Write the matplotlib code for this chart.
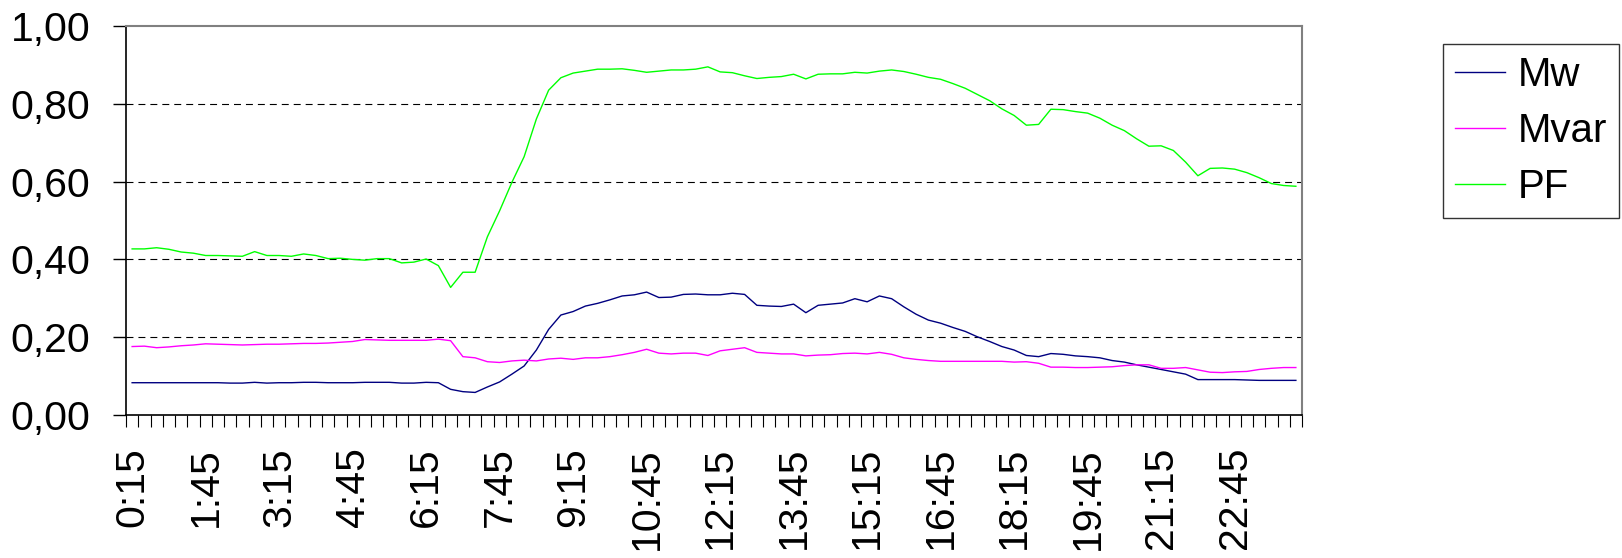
import matplotlib
matplotlib.use("Agg")
import matplotlib.pyplot as plt
from matplotlib.ticker import FixedLocator, FuncFormatter, NullFormatter

plt.rcParams['font.family'] = ['Liberation Sans', 'DejaVu Sans']
plt.rcParams['lines.scale_dashes'] = False

# categories: quarter hours 0:15 ... 24:00
times = [f"{m // 60}:{m % 60:02d}" for m in range(15, 24 * 60 + 1, 15)]

mw = [0.083, 0.083, 0.083, 0.083, 0.083, 0.083, 0.083, 0.083, 0.082, 0.082,
      0.084, 0.082, 0.083, 0.083, 0.084, 0.084, 0.083, 0.083, 0.083, 0.084,
      0.084, 0.084, 0.082, 0.082, 0.084, 0.083, 0.066, 0.060, 0.058, 0.072,
      0.085, 0.105, 0.126, 0.167, 0.220, 0.257, 0.266, 0.280, 0.287, 0.296,
      0.306, 0.309, 0.316, 0.302, 0.303, 0.310, 0.311, 0.309, 0.309, 0.313,
      0.310, 0.282, 0.280, 0.279, 0.285, 0.263, 0.282, 0.285, 0.288, 0.299,
      0.291, 0.306, 0.299, 0.278, 0.259, 0.244, 0.236, 0.225, 0.215, 0.201,
      0.189, 0.176, 0.167, 0.153, 0.150, 0.158, 0.156, 0.152, 0.150, 0.147,
      0.140, 0.136, 0.129, 0.123, 0.117, 0.111, 0.105, 0.091, 0.091, 0.091,
      0.091, 0.090, 0.089, 0.089, 0.089, 0.089]

mvar = [0.176, 0.177, 0.173, 0.175, 0.178, 0.180, 0.183, 0.182, 0.181, 0.180,
        0.181, 0.182, 0.182, 0.183, 0.184, 0.184, 0.185, 0.187, 0.189, 0.194,
        0.193, 0.192, 0.192, 0.192, 0.192, 0.195, 0.191, 0.150, 0.147, 0.137,
        0.135, 0.139, 0.141, 0.139, 0.144, 0.146, 0.143, 0.147, 0.147, 0.150,
        0.155, 0.161, 0.169, 0.159, 0.157, 0.159, 0.159, 0.153, 0.165, 0.169,
        0.173, 0.161, 0.159, 0.157, 0.157, 0.152, 0.154, 0.155, 0.158, 0.159,
        0.157, 0.161, 0.156, 0.147, 0.143, 0.140, 0.138, 0.138, 0.138, 0.138,
        0.138, 0.138, 0.136, 0.137, 0.133, 0.123, 0.123, 0.122, 0.122, 0.123,
        0.124, 0.127, 0.129, 0.129, 0.120, 0.120, 0.122, 0.116, 0.110, 0.109,
        0.111, 0.112, 0.117, 0.120, 0.122, 0.122]

pf = [0.427, 0.427, 0.430, 0.426, 0.419, 0.416, 0.410, 0.410, 0.409, 0.408,
      0.420, 0.410, 0.410, 0.408, 0.414, 0.410, 0.402, 0.403, 0.400, 0.398,
      0.402, 0.402, 0.391, 0.393, 0.401, 0.384, 0.328, 0.367, 0.367, 0.458,
      0.525, 0.598, 0.664, 0.761, 0.835, 0.867, 0.879, 0.884, 0.889, 0.889,
      0.890, 0.886, 0.881, 0.884, 0.887, 0.887, 0.889, 0.895, 0.882, 0.880,
      0.872, 0.865, 0.868, 0.870, 0.876, 0.864, 0.876, 0.877, 0.877, 0.881,
      0.879, 0.884, 0.887, 0.883, 0.876, 0.868, 0.863, 0.852, 0.840, 0.824,
      0.808, 0.787, 0.770, 0.745, 0.747, 0.786, 0.785, 0.780, 0.776, 0.763,
      0.745, 0.731, 0.710, 0.691, 0.692, 0.680, 0.650, 0.615, 0.634, 0.635,
      0.632, 0.623, 0.610, 0.595, 0.590, 0.588]

series_names = ["Mw", "Mvar", "PF"]
yticks = [0.0, 0.2, 0.4, 0.6, 0.8, 1.0]
label_step = 6

W, H = 1622, 558
fig = plt.figure(figsize=(W / 100, H / 100), dpi=100)
ax = fig.add_axes([126 / W, (H - 415) / H, (1302 - 126) / W, (415 - 26) / H])

x = list(range(len(times)))
ax.plot(x, mw, color="#000080", lw=1.0, label=series_names[0])
ax.plot(x, mvar, color="#FF00FF", lw=1.0, label=series_names[1])
ax.plot(x, pf, color="#00FF00", lw=1.0, label=series_names[2])

ax.set_xlim(-0.5, len(times) - 0.5)
ax.set_ylim(0, 1.0)

# y axis
ax.yaxis.set_major_locator(FixedLocator(yticks))
ax.yaxis.set_major_formatter(FuncFormatter(lambda v, p: f"{v:.2f}".replace(".", ",")))
ax.tick_params(axis="y", which="major", direction="out", length=9.5, width=1.0,
               pad=16, labelsize=29.5, color="black")
for yv in yticks[1:-1]:
    ax.axhline(yv, color="black", lw=0.8, linestyle=(0, (5, 3.6)), zorder=1)

# x axis: tick marks on category boundaries, labels at centres every 6th
ax.xaxis.set_major_locator(FixedLocator([i - 0.5 for i in range(len(times) + 1)]))
ax.xaxis.set_major_formatter(NullFormatter())
ax.xaxis.set_minor_locator(FixedLocator(list(range(0, len(times), label_step))))
ax.xaxis.set_minor_formatter(FuncFormatter(lambda v, p: times[int(round(v))]))
ax.tick_params(axis="x", which="major", direction="out", length=8.6, width=0.8, color="black")
ax.tick_params(axis="x", which="minor", length=0, pad=23, labelsize=29.5,
               labelrotation=90)
for lab in ax.get_xticklabels(minor=True):
    lab.set_va("top")

for s in ["left", "bottom"]:
    ax.spines[s].set_color("black")
    ax.spines[s].set_linewidth(1.2)
for s in ["top", "right"]:
    ax.spines[s].set_color("#808080")
    ax.spines[s].set_linewidth(1.5)

leg = fig.legend(loc="upper left", bbox_to_anchor=(1443 / W, 1 - 44 / H),
                 fontsize=29, frameon=True, fancybox=False, handlelength=1.25,
                 handletextpad=0.3, labelspacing=0.45, borderpad=0.3,
                 borderaxespad=0)
leg.get_frame().set_edgecolor("black")
leg.get_frame().set_linewidth(1.0)

fig.savefig("out.png", dpi=100, facecolor="white")
